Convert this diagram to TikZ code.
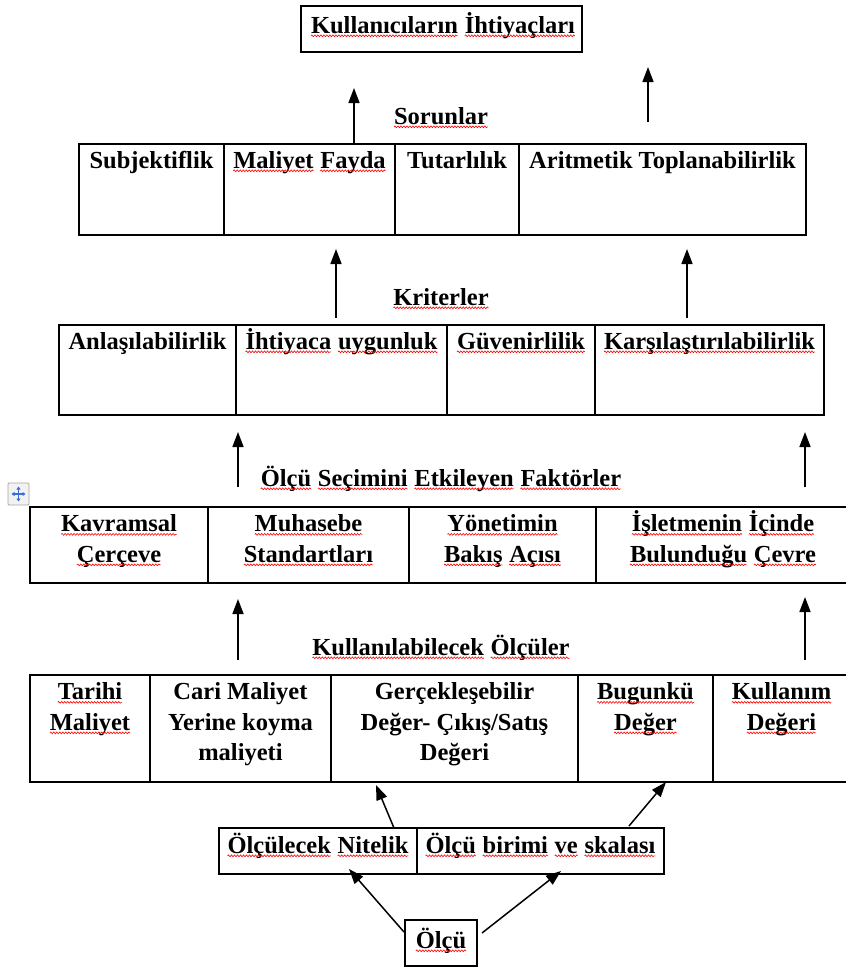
\documentclass[tikz,border=0pt]{standalone}
\usepackage{fontspec}
\setmainfont{Liberation Serif}
\usetikzlibrary{arrows.meta,decorations.pathmorphing}
\newcommand\sq[1]{\tikz[baseline=(w.base)]{\node[inner sep=0pt, outer sep=0pt, anchor=base, draw=none] (w) at (0,0) {#1};\draw[red, line width=0.6pt, decorate, decoration={snake, amplitude=0.9pt, segment length=3pt}] ([yshift=-2.8pt]w.base west) -- ([yshift=-2.8pt]w.base east);}}
\newcommand\cellnode[5]{\node[cellbox, minimum width={(#4-#2)*1pt}, minimum height={(#5-#3)*1pt}] (#1) at (#2,#3) {};}
\definecolor{iconblue}{RGB}{60,110,210}
\tikzset{
  cellbox/.style={draw, line width=1.4pt, anchor=north west, inner sep=0pt, outer sep=0pt},
  txt/.style={font=\bfseries\fontsize{24.5}{30.5}\selectfont, inner sep=0pt, anchor=base, align=center},
  mtxt/.style={txt, anchor=north},
  arr/.style={-{Triangle[length=15pt,width=11pt]}, line width=1.5pt},
  iconarr/.style={iconblue, line width=1.2pt, {Triangle[length=3pt,width=4pt]}-{Triangle[length=3pt,width=4pt]}},
}
\begin{document}
\begin{tikzpicture}[x=1pt,y=-1pt]
\useasboundingbox (0,0) rectangle (846,967);
\fill[white] (0,0) rectangle (846,967);
\clip (0,0) rectangle (846,967);

% top box
\cellnode{need}{301}{6}{582}{52}
\node[txt] (needt) at (443,33) {\sq{Kullanıcıların} \sq{İhtiyaçları}};

% Sorunlar
\node[txt] (sorl) at (441,124) {\sq{Sorunlar}};
\cellnode{s1}{79}{144}{224}{235}
\cellnode{s2}{224}{144}{395}{235}
\cellnode{s3}{395}{144}{519}{235}
\cellnode{s4}{519}{144}{806}{235}
\node[txt] (s1t) at ([yshift=-24pt]s1.north) {Subjektiflik};
\node[txt] (s2t) at ([yshift=-24pt]s2.north) {\sq{Maliyet} \sq{Fayda}};
\node[txt] (s3t) at ([yshift=-24pt]s3.north) {Tutarlılık};
\node[txt] (s4t) at ([yshift=-24pt]s4.north) {Aritmetik Toplanabilirlik};

% Kriterler
\node[txt] (kril) at (441,305) {\sq{Kriterler}};
\cellnode{k1}{59}{325}{236}{415}
\cellnode{k2}{236}{325}{447}{415}
\cellnode{k3}{447}{325}{595}{415}
\cellnode{k4}{595}{325}{824}{415}
\node[txt] (k1t) at ([yshift=-24pt]k1.north) {Anlaşılabilirlik};
\node[txt] (k2t) at ([yshift=-24pt]k2.north) {\sq{İhtiyaca} \sq{uygunluk}};
\node[txt] (k3t) at ([yshift=-24pt]k3.north) {\sq{Güvenirlilik}};
\node[txt] (k4t) at ([yshift=-24pt]k4.north) {\sq{Karşılaştırılabilirlik}};

% Faktorler
\node[txt] (fakl) at (441,486) {\sq{Ölçü} \sq{Seçimini} \sq{Etkileyen} \sq{Faktörler}};
\cellnode{f1}{30}{507}{208}{583}
\cellnode{f2}{208}{507}{409}{583}
\cellnode{f3}{409}{507}{596}{583}
\cellnode{f4}{596}{507}{850}{583}
\node[mtxt] (f1t) at ([yshift=-3pt]f1.north) {\strut\sq{Kavramsal}\\\sq{Çerçeve}};
\node[mtxt] (f2t) at ([yshift=-3pt]f2.north) {\strut\sq{Muhasebe}\\\sq{Standartları}};
\node[mtxt] (f3t) at ([yshift=-3pt]f3.north) {\strut\sq{Yönetimin}\\\sq{Bakış} \sq{Açısı}};
\node[mtxt] (f4t) at ([yshift=-3pt]f4.north) {\strut\sq{İşletmenin} \sq{İçinde}\\\sq{Bulunduğu} \sq{Çevre}};

% move handle icon
\draw[gray!70, line width=0.8pt, fill=gray!10, rounded corners=1pt] (8,483) rectangle (29,505);
\draw[iconarr] (11.5,494) -- (25.5,494);
\draw[iconarr] (18.5,486.5) -- (18.5,501.5);

% Olculer
\node[txt] (olcl) at (441,655) {\sq{Kullanılabilecek} \sq{Ölçüler}};
\cellnode{o1}{30}{675}{150}{782}
\cellnode{o2}{150}{675}{331}{782}
\cellnode{o3}{331}{675}{578}{782}
\cellnode{o4}{578}{675}{713}{782}
\cellnode{o5}{713}{675}{850}{782}
\node[mtxt] (o1t) at ([yshift=-3pt]o1.north) {\strut\sq{Tarihi}\\\sq{Maliyet}};
\node[mtxt] (o2t) at ([yshift=-3pt]o2.north) {\strut Cari Maliyet\\Yerine koyma\\maliyeti};
\node[mtxt] (o3t) at ([yshift=-3pt]o3.north) {\strut Gerçekleşebilir\\Değer- Çıkış/Satış\\Değeri};
\node[mtxt] (o4t) at ([yshift=-3pt]o4.north) {\strut\sq{Bugunkü}\\\sq{Değer}};
\node[mtxt] (o5t) at ([yshift=-3pt]o5.north) {\strut\sq{Kullanım}\\\sq{Değeri}};

% Nitelik / birim
\cellnode{n1}{219}{828}{417}{874}
\cellnode{n2}{417}{828}{664}{874}
\node[txt] (n1t) at ([yshift=-25pt]n1.north) {\sq{Ölçülecek} \sq{Nitelik}};
\node[txt] (n2t) at ([yshift=-25pt]n2.north) {\sq{Ölçü} \sq{birimi} \sq{ve} \sq{skalası}};

% Olcu
\cellnode{olcu}{405}{920}{477}{966}
\node[txt] (olcut) at ([yshift=-28pt]olcu.north) {\sq{Ölçü}};

% arrow end coordinates
\coordinate (a1e) at (354,88);
\coordinate (a2s) at (648,122); \coordinate (a2e) at (648,67);
\coordinate (b1s) at (336,318); \coordinate (b1e) at (336,249);
\coordinate (b2s) at (687,318); \coordinate (b2e) at (687,249);
\coordinate (c1s) at (238,487); \coordinate (c1e) at (238,432);
\coordinate (c2s) at (805,487); \coordinate (c2e) at (805,432);
\coordinate (d1s) at (238,660); \coordinate (d1e) at (238,599);
\coordinate (d2s) at (805,660); \coordinate (d2e) at (805,597);
\coordinate (e1s) at (394,828); \coordinate (e1e) at (376,785);
\coordinate (e2s) at (629,826); \coordinate (e2e) at (666,782);
\coordinate (g1s) at (404,932); \coordinate (g1e) at (349,869);
\coordinate (g2s) at (482,933); \coordinate (g2e) at (561,871);

\draw[arr] (s2.north -| a1e) -- (a1e);
\draw[arr] (a2s) -- (a2e);
\draw[arr] (b1s) -- (b1e);
\draw[arr] (b2s) -- (b2e);
\draw[arr] (c1s) -- (c1e);
\draw[arr] (c2s) -- (c2e);
\draw[arr] (d1s) -- (d1e);
\draw[arr] (d2s) -- (d2e);
\draw[arr] (e1s) -- (e1e);
\draw[arr] (e2s) -- (e2e);
\draw[arr] (g1s) -- (g1e);
\draw[arr] (g2s) -- (g2e);
\end{tikzpicture}
\end{document}
